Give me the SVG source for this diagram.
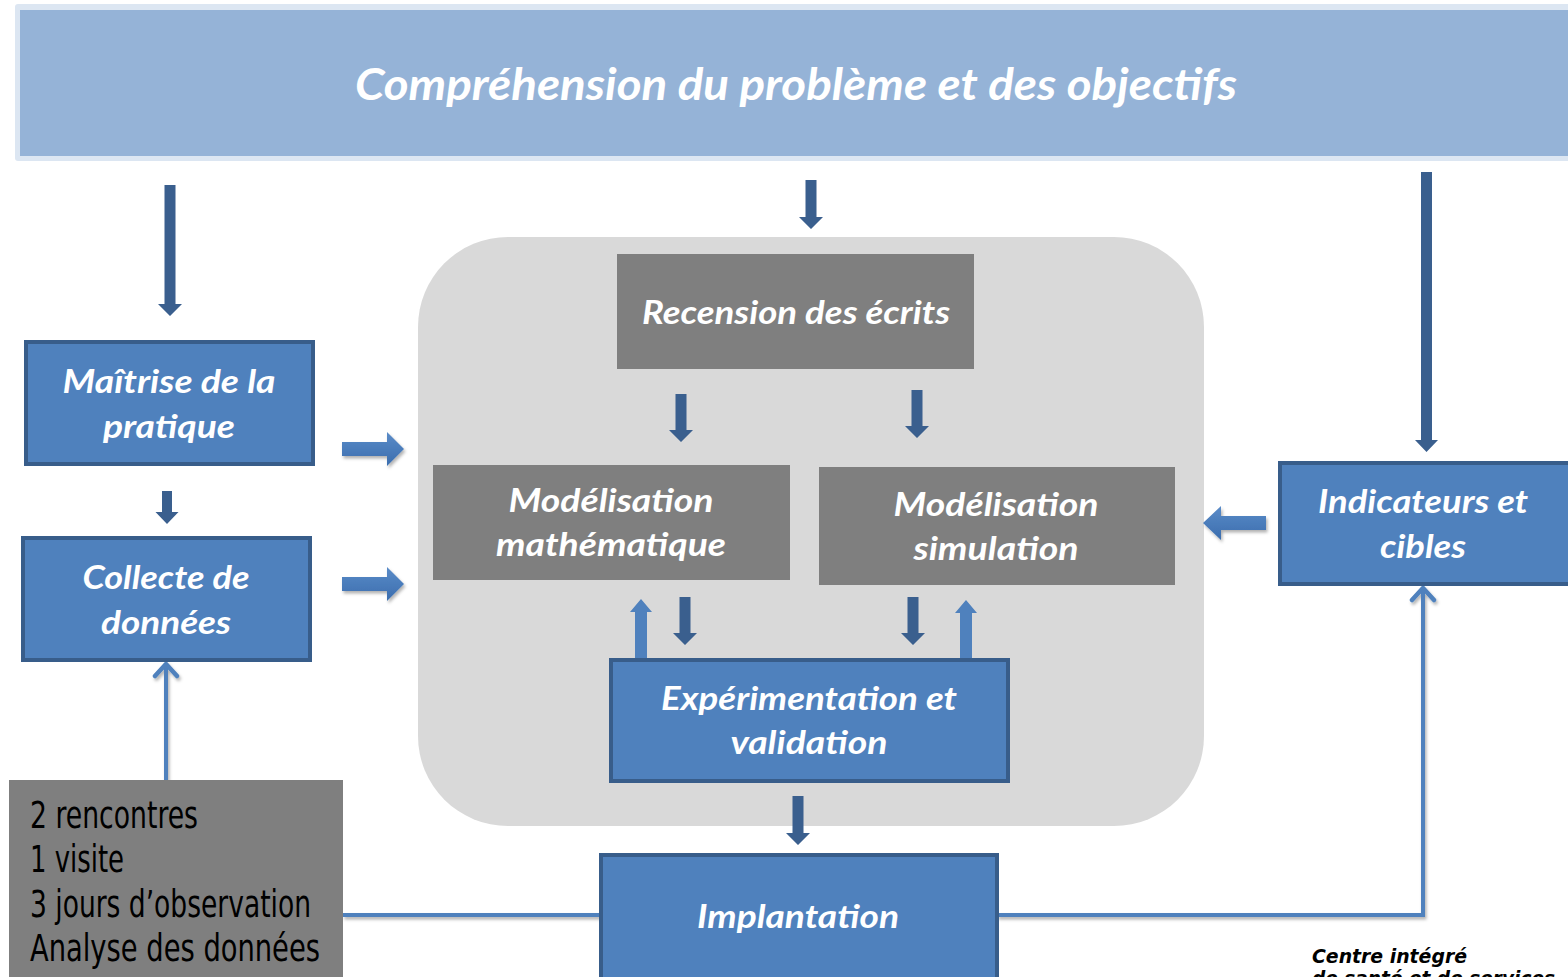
<svg xmlns="http://www.w3.org/2000/svg" width="1568" height="977" viewBox="0 0 1568 977">
<style>
.blue{fill:#4F81BD;stroke:#385D8A;stroke-width:4}
.grey{fill:#7F7F7F}
.lbl{font-family:Lato,"Open Sans",sans-serif;font-weight:bold;font-style:italic;font-size:32px;fill:#FFFFFF;text-anchor:middle}
.dark{fill:#3A5F8E}
.up{fill:#4F81BD}
.blk{fill:url(#bg);filter:url(#sh)}
.conn{fill:none;stroke:#4F81BD;stroke-width:4;filter:url(#sh)}
.note{font-family:"Liberation Sans Narrow","DejaVu Sans Condensed","Liberation Sans",sans-serif;font-size:37px;fill:#000000}
.foot{font-family:"DejaVu Sans",sans-serif;font-weight:bold;font-style:italic;font-size:19px;fill:#000000}
</style>
<defs>
<linearGradient id="bg" x1="0" y1="0" x2="0" y2="1">
<stop offset="0" stop-color="#5B8CC8"/>
<stop offset="1" stop-color="#3A6DAE"/>
</linearGradient>
<filter id="sh" filterUnits="userSpaceOnUse" x="0" y="0" width="1568" height="977">
<feDropShadow dx="1.5" dy="2.5" stdDeviation="1.8" flood-color="#000" flood-opacity="0.3"/>
</filter>
<marker id="chev" viewBox="-16 -14 20 28" refX="0" refY="0" markerWidth="20" markerHeight="28" markerUnits="userSpaceOnUse" orient="auto">
<path d="M-12 -11 L0 0 L-12 11" fill="none" stroke="#4F81BD" stroke-width="4.5" stroke-linecap="round" stroke-linejoin="round"/>
</marker>
</defs>
<rect width="1568" height="977" fill="#FFFFFF"/>

<g id="banner">
<rect x="15" y="4" width="1570" height="157" rx="3" fill="#DCE6F2"/>
<rect x="20" y="10" width="1560" height="146" fill="#95B3D7"/>
<text x="796" y="100" class="lbl" style="font-size:44px" textLength="882" lengthAdjust="spacingAndGlyphs">Compréhension du problème et des objectifs</text>
</g>

<g id="region">
<rect x="418" y="237" width="786" height="589" rx="90" fill="#D9D9D9"/>
</g>

<g id="arrows">
<path class="dark" d="M164.5 185 H175.5 V304 H182 L170 316 L158 304 H164.5 Z"/>
<path class="dark" d="M805.5 180 H816.5 V217 H823 L811 229 L799 217 H805.5 Z"/>
<path class="dark" d="M1421 172 H1432 V440 H1438 L1426.5 452 L1415 440 H1421 Z"/>
<path class="dark" d="M162 491 H172 V512 H178.5 L167 524 L155.5 512 H162 Z"/>
<path class="dark" d="M675.5 394 H686.5 V430 H693 L681 442 L669 430 H675.5 Z"/>
<path class="dark" d="M911.5 390 H922.5 V426 H929 L917 438 L905 426 H911.5 Z"/>
<path class="dark" d="M679.5 597 H690.5 V633 H697 L685 645 L673 633 H679.5 Z"/>
<path class="dark" d="M907.5 597 H918.5 V633 H925 L913 645 L901 633 H907.5 Z"/>
<path class="dark" d="M792.5 796 H803.5 V833 H810 L798 845 L786 833 H792.5 Z"/>
<path class="up" d="M635 659 V612 H630 L641 599 L652 612 H647 V659 Z"/>
<path class="up" d="M960 659 V613 H955 L966 600 L977 613 H972 V659 Z"/>
<path class="blk" d="M342 442 H387 V432 L404 449 L387 466 V456 H342 Z"/>
<path class="blk" d="M342 577 H387 V567 L404 584 L387 601 V591 H342 Z"/>
<path class="blk" d="M1266 516 H1221 V506 L1203 523 L1221 540 V530 H1266 Z"/>
</g>

<g id="connectors">
<path class="conn" d="M166 780 V664" marker-end="url(#chev)"/>
<path class="conn" d="M343 915 H601"/>
<path class="conn" d="M997 915 H1423 V588" marker-end="url(#chev)"/>
</g>

<g id="maitrise">
<rect class="blue" x="26" y="342" width="287" height="122"/>
<text class="lbl" x="169" y="393" textLength="213" lengthAdjust="spacingAndGlyphs">Maîtrise de la</text>
<text class="lbl" x="169" y="438" textLength="132" lengthAdjust="spacingAndGlyphs">pratique</text>
</g>

<g id="collecte">
<rect class="blue" x="23" y="538" width="287" height="122"/>
<text class="lbl" x="166" y="589" textLength="167" lengthAdjust="spacingAndGlyphs">Collecte de</text>
<text class="lbl" x="166" y="634" textLength="130" lengthAdjust="spacingAndGlyphs">données</text>
</g>

<g id="indicateurs">
<rect class="blue" x="1280" y="463" width="300" height="121"/>
<text class="lbl" x="1423" y="513" textLength="210" lengthAdjust="spacingAndGlyphs">Indicateurs et</text>
<text class="lbl" x="1423" y="558" textLength="86" lengthAdjust="spacingAndGlyphs">cibles</text>
</g>

<g id="recension">
<rect class="grey" x="617" y="254" width="357" height="115"/>
<text class="lbl" x="796" y="324" textLength="308" lengthAdjust="spacingAndGlyphs">Recension des écrits</text>
</g>

<g id="modmath">
<rect class="grey" x="433" y="465" width="357" height="115"/>
<text class="lbl" x="611" y="512" textLength="205" lengthAdjust="spacingAndGlyphs">Modélisation</text>
<text class="lbl" x="611" y="556" textLength="230" lengthAdjust="spacingAndGlyphs">mathématique</text>
</g>

<g id="modsim">
<rect class="grey" x="819" y="467" width="356" height="118"/>
<text class="lbl" x="996" y="516" textLength="205" lengthAdjust="spacingAndGlyphs">Modélisation</text>
<text class="lbl" x="996" y="560" textLength="165" lengthAdjust="spacingAndGlyphs">simulation</text>
</g>

<g id="experimentation">
<rect class="blue" x="611" y="660" width="397" height="121"/>
<text class="lbl" x="809" y="710" textLength="296" lengthAdjust="spacingAndGlyphs">Expérimentation et</text>
<text class="lbl" x="809" y="754" textLength="157" lengthAdjust="spacingAndGlyphs">validation</text>
</g>

<g id="implantation">
<rect class="blue" x="601" y="855" width="396" height="130"/>
<text class="lbl" x="798" y="928" textLength="202" lengthAdjust="spacingAndGlyphs">Implantation</text>
</g>

<g id="notes">
<rect class="grey" x="9" y="780" width="334" height="200"/>
<text class="note" x="30" y="828" textLength="168" lengthAdjust="spacingAndGlyphs">2 rencontres</text>
<text class="note" x="30" y="872" textLength="94" lengthAdjust="spacingAndGlyphs">1 visite</text>
<text class="note" x="30" y="917" textLength="281" lengthAdjust="spacingAndGlyphs">3 jours d’observation</text>
<text class="note" x="30" y="961" textLength="290" lengthAdjust="spacingAndGlyphs">Analyse des données</text>
</g>

<g id="footer">
<text class="foot" x="1312" y="963" textLength="155" lengthAdjust="spacingAndGlyphs">Centre intégré</text>
<text class="foot" x="1312" y="985" textLength="243" lengthAdjust="spacingAndGlyphs">de santé et de services</text>
</g>
</svg>
